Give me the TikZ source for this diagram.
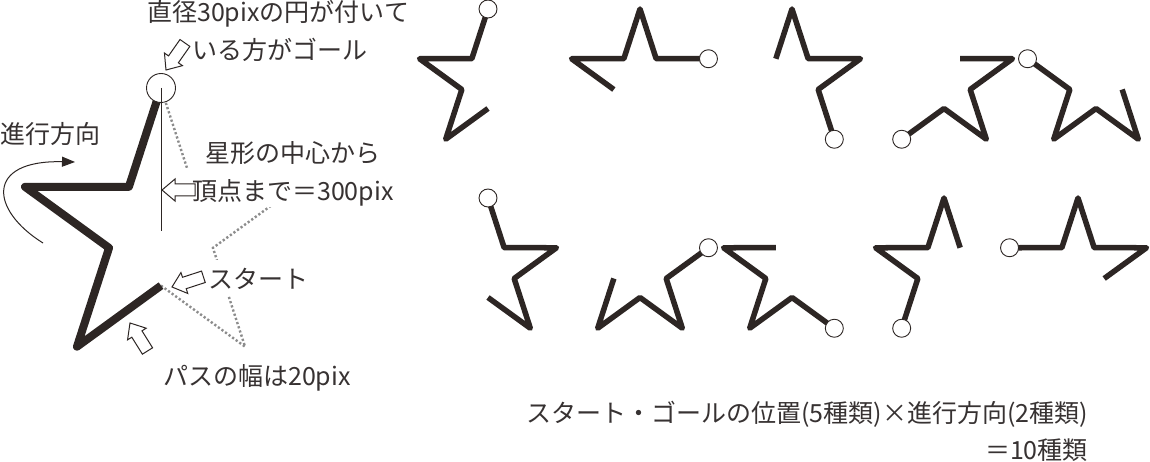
\documentclass[tikz,border=0pt]{standalone}
\usepackage{fontspec}
\newfontfamily\cjk{Noto Sans CJK JP}
\usetikzlibrary{arrows.meta}
\definecolor{starc}{RGB}{45,38,36}
\definecolor{txtc}{RGB}{55,50,50}
\definecolor{dotc}{RGB}{140,140,140}
% #1 name, #2 cx, #3 cy, #4 R, #5 start angle, #6 step
\newcommand\mkstar[6]{%
  \foreach \k in {0,...,5}{%
    \pgfmathsetmacro\rad{#4*(0.382+0.618*mod(\k,2))}%
    \coordinate (#1-\k) at ({#2+\rad*cos(#5+\k*(#6))},{#3-\rad*sin(#5+\k*(#6))});
  }}
\newcommand\drawstar[7]{% name cx cy R start step lw
  \mkstar{#1}{#2}{#3}{#4}{#5}{#6}%
  \draw[starline, line width=#7] (#1-0) -- (#1-1) -- (#1-2) -- (#1-3) -- (#1-4) -- (#1-5);
}
\begin{document}
\begin{tikzpicture}[x=1pt,y=-1pt,
  starline/.style={draw=starc, line join=round, line cap=butt},
  goal/.style={circle, draw=starc, fill=white, line width=0.9pt, inner sep=0pt},
  lbl/.style={font=\cjk\fontsize{25}{29}\selectfont, text=txtc, inner sep=0pt, anchor=base west},
  dotline/.style={draw=dotc, line width=2.4pt, dash pattern=on 2.2pt off 2.2pt},
  harrow/.style={draw=starc, fill=white, line width=1pt, line join=miter},
  hollow/.pic={\draw[harrow] (0,0) -- (-13,11) -- (-13,6) -- (-33,6) -- (-33,-6) -- (-13,-6) -- (-13,-11) -- cycle;}
]
\useasboundingbox[fill=white] (0,0) rectangle (1150,462);

% ---- big star ----
\mkstar{b}{161}{231}{143}{270}{-36}
\coordinate (bc) at (161,231);
% rest of outline, dotted
\mkstar{d}{161}{231}{143}{270}{36}
\draw[dotline] (d-0) -- (d-1) -- (d-2) -- (d-3) -- (d-4) -- (d-5);
% white boxes under labels
\fill[white] (177,168) rectangle (400,207);
\fill[white] (200,260) rectangle (347,296);
\draw[starline, line width=8pt] (b-0) -- (b-1) -- (b-2) -- (b-3) -- (b-4) -- (b-5);
\node[goal, minimum size=29pt] (bg) at (b-5) {};
\draw[starc, line width=1pt] (bg.center) -- (bc);

% labels
\node[lbl] (t1) at (147,22) {直径30pixの円が付いて};
\node[lbl] (t2) at (192,60) {いる方がゴール};
\node[lbl] (t3) at (0,144) {進行方向};
\node[lbl] (t4) at (205,163) {星形の中心から};
\node[lbl] (t5) at (192,201) {頂点まで＝300pix};
\node[lbl] (t6) at (208,288) {スタート};
\node[lbl] (t7) at (163,385) {パスの幅は20pix};
\node[lbl, anchor=base east] (t8) at (1088,422) {スタート・ゴールの位置(5種類)×進行方向(2種類)};
\node[lbl, anchor=base east] (t9) at (1088,459) {＝10種類};

% hollow pointer arrows
\pic[rotate=235] at (166,70) {hollow};
\pic[rotate=180] at (162,190) {hollow};
\pic[rotate=198] at (172,287) {hollow};
\pic[rotate=122] at (130,323) {hollow};

% direction arrow
\coordinate (ca-s) at (43,243);
\coordinate (ca-e) at (75,162);
\draw[starc, line width=1pt, -{Triangle[length=13pt,width=10pt]}] (ca-s) .. controls (-10,210) and (-15,160) .. (ca-e);

% ---- top row: clockwise ----
\foreach \n/\cx/\st in {s1/488/270, s2/640/198, s3/792/126, s4/944/54, s5/1096/-18}{
  \drawstar{\n}{\cx}{81}{72}{\st}{-36}{5.5pt}
  \node[goal, minimum size=18pt] (\n-g) at (\n-5) {};
}
% ---- bottom row: counter-clockwise ----
\foreach \n/\cx/\st in {s6/488/-90, s7/640/198, s8/792/126, s9/944/54, s10/1078/-18}{
  \drawstar{\n}{\cx}{270}{72}{\st}{36}{5.5pt}
  \node[goal, minimum size=18pt] (\n-g) at (\n-5) {};
}
\end{tikzpicture}
\end{document}
